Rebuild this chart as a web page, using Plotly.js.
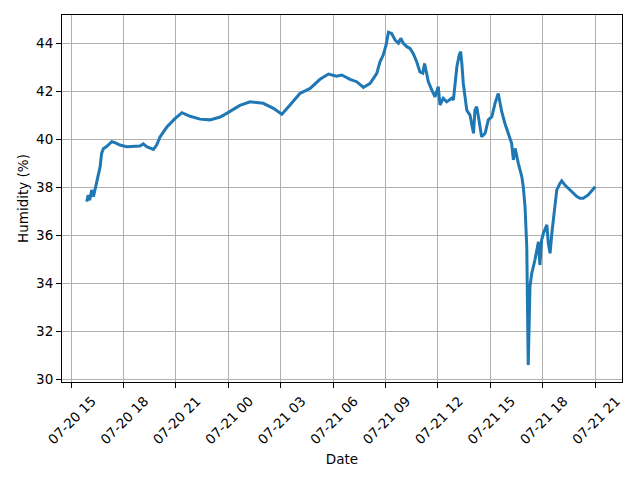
<!DOCTYPE html>
<html>
<head>
<meta charset="utf-8">
<script src="https://cdn.plot.ly/plotly-3.0.1.min.js"></script>
<style>html,body{margin:0;padding:0;background:#fff;}#chart{width:640px;height:480px;}</style>
</head>
<body>
<div id="chart"></div>
<script>
const times = [
"2024-07-20 15:54","2024-07-20 15:59","2024-07-20 16:04","2024-07-20 16:11","2024-07-20 16:17",
"2024-07-20 16:22","2024-07-20 16:26","2024-07-20 16:34","2024-07-20 16:40","2024-07-20 16:45",
"2024-07-20 16:51","2024-07-20 17:03","2024-07-20 17:20","2024-07-20 17:31","2024-07-20 17:48",
"2024-07-20 18:11","2024-07-20 18:57","2024-07-20 19:08","2024-07-20 19:20","2024-07-20 19:43",
"2024-07-20 19:54","2024-07-20 20:06","2024-07-20 20:29","2024-07-20 20:57","2024-07-20 21:21",
"2024-07-20 21:49","2024-07-20 22:23","2024-07-20 22:57","2024-07-20 23:32","2024-07-20 23:56",
"2024-07-21 00:40","2024-07-21 01:15","2024-07-21 02:00","2024-07-21 02:35","2024-07-21 03:04",
"2024-07-21 03:32","2024-07-21 04:06","2024-07-21 04:41","2024-07-21 05:15","2024-07-21 05:44",
"2024-07-21 06:12","2024-07-21 06:30","2024-07-21 06:58","2024-07-21 07:21","2024-07-21 07:44",
"2024-07-21 08:07","2024-07-21 08:30","2024-07-21 08:41","2024-07-21 08:52","2024-07-21 09:02",
"2024-07-21 09:10","2024-07-21 09:21","2024-07-21 09:33","2024-07-21 09:44","2024-07-21 09:52",
"2024-07-21 10:01","2024-07-21 10:13","2024-07-21 10:24","2024-07-21 10:35","2024-07-21 10:47",
"2024-07-21 10:58","2024-07-21 11:08","2024-07-21 11:14","2024-07-21 11:20","2024-07-21 11:27",
"2024-07-21 11:39","2024-07-21 11:50","2024-07-21 12:01","2024-07-21 12:07","2024-07-21 12:18",
"2024-07-21 12:30","2024-07-21 12:47","2024-07-21 12:53","2024-07-21 12:59","2024-07-21 13:05",
"2024-07-21 13:13","2024-07-21 13:18","2024-07-21 13:22","2024-07-21 13:27","2024-07-21 13:33",
"2024-07-21 13:39","2024-07-21 13:50","2024-07-21 14:02","2024-07-21 14:07","2024-07-21 14:13",
"2024-07-21 14:19","2024-07-21 14:30","2024-07-21 14:42","2024-07-21 14:53","2024-07-21 15:05",
"2024-07-21 15:16","2024-07-21 15:27","2024-07-21 15:39","2024-07-21 15:50","2024-07-21 16:02",
"2024-07-21 16:13","2024-07-21 16:19","2024-07-21 16:25","2024-07-21 16:36","2024-07-21 16:48",
"2024-07-21 16:53","2024-07-21 16:59","2024-07-21 17:05","2024-07-21 17:10","2024-07-21 17:16",
"2024-07-21 17:22","2024-07-21 17:33","2024-07-21 17:45","2024-07-21 17:50","2024-07-21 17:56",
"2024-07-21 18:02","2024-07-21 18:14","2024-07-21 18:19","2024-07-21 18:25","2024-07-21 18:31",
"2024-07-21 18:42","2024-07-21 18:48","2024-07-21 18:59","2024-07-21 19:05","2024-07-21 19:16",
"2024-07-21 19:34","2024-07-21 19:57","2024-07-21 20:08","2024-07-21 20:19","2024-07-21 20:36",
"2024-07-21 21:00"
];
const humidity = [
37.39,37.67,37.45,37.88,37.60,
37.88,38.10,38.43,38.85,39.40,
39.60,39.70,39.89,39.85,39.75,
39.68,39.71,39.80,39.68,39.57,
39.75,40.10,40.50,40.85,41.10,
40.95,40.83,40.80,40.92,41.08,
41.40,41.55,41.49,41.28,41.03,
41.42,41.90,42.11,42.49,42.71,
42.62,42.67,42.49,42.39,42.15,
42.32,42.74,43.22,43.50,43.92,
44.45,44.40,44.12,43.99,44.20,
43.99,43.85,43.78,43.57,43.22,
42.80,42.75,43.15,42.80,42.39,
42.04,41.76,42.18,41.42,41.70,
41.55,41.70,41.63,42.32,43.01,
43.50,43.64,43.15,42.32,41.76,
41.20,41.00,40.24,41.20,41.35,
40.93,40.10,40.24,40.80,40.93,
41.49,41.90,41.14,40.65,40.24,
39.82,39.13,39.61,38.99,38.43,
38.01,37.18,35.51,30.58,33.85,
34.40,34.96,35.72,34.75,35.79,
36.07,36.42,35.65,35.24,36.07,
37.18,37.88,38.15,38.26,38.08,
37.88,37.60,37.53,37.53,37.67,
38.01
];
const xTickVals = ["2024-07-20 15:00","2024-07-20 18:00","2024-07-20 21:00","2024-07-21 00:00",
"2024-07-21 03:00","2024-07-21 06:00","2024-07-21 09:00","2024-07-21 12:00","2024-07-21 15:00",
"2024-07-21 18:00","2024-07-21 21:00"];
const xTickText = ["07-20 15","07-20 18","07-20 21","07-21 00","07-21 03","07-21 06","07-21 09",
"07-21 12","07-21 15","07-21 18","07-21 21"];
const yTickVals = [30,32,34,36,38,40,42,44];

const font = {family: "DejaVu Sans", size: 13.5, color: "#000"};
Plotly.newPlot("chart", [{
  x: times, y: humidity, type: "scatter", mode: "lines",
  line: {color: "#1f77b4", width: 3}
}], {
  width: 640, height: 480,
  margin: {l: 62, r: 18, t: 15, b: 98},
  paper_bgcolor: "#fff", plot_bgcolor: "#fff",
  font: font,
  showlegend: false,
  xaxis: {
    type: "date",
    range: ["2024-07-20 14:29", "2024-07-21 22:32"],
    tickmode: "array", tickvals: xTickVals, ticktext: xTickText,
    tickangle: -45, ticklabelshift: 21,
    ticks: "outside", ticklen: 5, tickcolor: "#000", tickwidth: 1,
    showgrid: true, gridcolor: "#b0b0b0", gridwidth: 1,
    showline: true, linecolor: "#000", linewidth: 1, mirror: true,
    zeroline: false,
    tickfont: font,
    title: {text: "Date", font: font, standoff: 8}
  },
  yaxis: {
    range: [29.875, 45.17],
    tickmode: "array", tickvals: yTickVals,
    ticks: "outside", ticklen: 5, tickcolor: "#000", tickwidth: 1,
    showgrid: true, gridcolor: "#b0b0b0", gridwidth: 1,
    showline: true, linecolor: "#000", linewidth: 1, mirror: true,
    zeroline: false,
    tickfont: font,
    title: {text: "Humidity (%)", font: font, standoff: 4}
  }
}, {staticPlot: true, displayModeBar: false});
</script>
</body>
</html>
